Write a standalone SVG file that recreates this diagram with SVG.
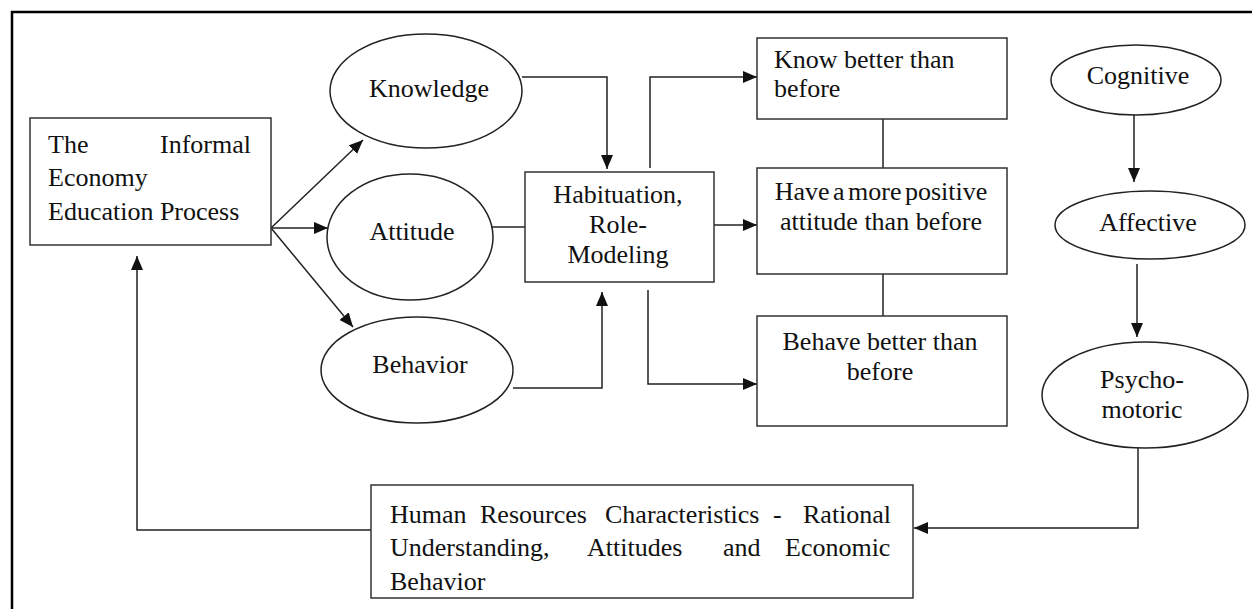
<svg xmlns="http://www.w3.org/2000/svg" width="1252" height="609" viewBox="0 0 1252 609">
<style>
.box{fill:#fff;stroke:#333;stroke-width:1.5}
.ell{fill:#fff;stroke:#222;stroke-width:1.5}
.t{font-size:26px;fill:#111}
.c{text-anchor:middle}
.ln{fill:none;stroke:#222;stroke-width:1.5}
</style>
<defs>
<marker id="ah" markerUnits="userSpaceOnUse" markerWidth="15" markerHeight="12" refX="14" refY="6" orient="auto">
<path d="M0,0 L14,6 L0,12 z" fill="#111"/>
</marker>
</defs>
<rect x="0" y="0" width="1252" height="609" fill="#fff"/>
<path d="M12,609 V12 H1252" fill="none" stroke="#000" stroke-width="2.5"/>

<g id="connectors">
<line class="ln" x1="271" y1="228" x2="363" y2="140" marker-end="url(#ah)"/>
<line class="ln" x1="271" y1="228" x2="328" y2="228" marker-end="url(#ah)"/>
<line class="ln" x1="271" y1="228" x2="353" y2="327" marker-end="url(#ah)"/>
<polyline class="ln" points="522,77 607,77 607,169" marker-end="url(#ah)"/>
<line class="ln" x1="492" y1="227" x2="525" y2="227"/>
<polyline class="ln" points="513,388 602,388 602,292" marker-end="url(#ah)"/>
<polyline class="ln" points="650,168 650,77 757,77" marker-end="url(#ah)"/>
<line class="ln" x1="714" y1="225" x2="757" y2="225" marker-end="url(#ah)"/>
<polyline class="ln" points="648,290 648,384 757,384" marker-end="url(#ah)"/>
<line class="ln" x1="883" y1="119" x2="883" y2="168"/>
<line class="ln" x1="883" y1="274" x2="883" y2="316"/>
<line class="ln" x1="1134" y1="114" x2="1134" y2="182" marker-end="url(#ah)"/>
<line class="ln" x1="1137" y1="264" x2="1137" y2="337" marker-end="url(#ah)"/>
<polyline class="ln" points="1138,448 1138,528 914,528" marker-end="url(#ah)"/>
<polyline class="ln" points="371,530 137,530 137,256" marker-end="url(#ah)"/>
</g>

<g font-family="Liberation Serif">
<g id="informal">
<rect class="box" x="30" y="118" width="241" height="127"/>
<text class="t" x="48" y="153">The</text>
<text class="t" x="251" y="153" text-anchor="end">Informal</text>
<text class="t" x="48" y="186">Economy</text>
<text class="t" x="48" y="220">Education Process</text>
</g>

<g id="knowledge">
<ellipse class="ell" cx="426" cy="91" rx="96" ry="57"/>
<text class="t c" x="429" y="97">Knowledge</text>
</g>
<g id="attitude">
<ellipse class="ell" cx="410" cy="237" rx="83" ry="63"/>
<text class="t c" x="412" y="240">Attitude</text>
</g>
<g id="behavior">
<ellipse class="ell" cx="417" cy="370" rx="96" ry="53"/>
<text class="t c" x="420" y="373">Behavior</text>
</g>

<g id="habituation">
<rect class="box" x="525" y="172" width="189" height="110"/>
<text class="t c" x="618" y="203">Habituation,</text>
<text class="t c" x="618" y="233">Role-</text>
<text class="t c" x="618" y="263">Modeling</text>
</g>

<g id="know-better">
<rect class="box" x="757" y="38" width="250" height="81"/>
<text class="t" x="774" y="68">Know better than</text>
<text class="t" x="774" y="97">before</text>
</g>
<g id="positive">
<rect class="box" x="757" y="168" width="250" height="106"/>
<text class="t c" x="881" y="200" word-spacing="-3">Have a more positive</text>
<text class="t c" x="881" y="230">attitude than before</text>
</g>
<g id="behave-better">
<rect class="box" x="757" y="316" width="250" height="110"/>
<text class="t c" x="880" y="350">Behave better than</text>
<text class="t c" x="880" y="380">before</text>
</g>

<g id="cognitive">
<ellipse class="ell" cx="1136" cy="80" rx="85" ry="35"/>
<text class="t c" x="1138" y="84">Cognitive</text>
</g>
<g id="affective">
<ellipse class="ell" cx="1150" cy="225" rx="95" ry="34"/>
<text class="t c" x="1148" y="231">Affective</text>
</g>
<g id="psychomotoric">
<ellipse class="ell" cx="1145" cy="395" rx="103" ry="53"/>
<text class="t c" x="1142" y="388">Psycho-</text>
<text class="t c" x="1142" y="418">motoric</text>
</g>

<g id="human-resources">
<rect class="box" x="371" y="485" width="542" height="113"/>
<text class="t"><tspan x="390" y="523">Human</tspan><tspan x="480" y="523">Resources</tspan><tspan x="605" y="523">Characteristics</tspan><tspan x="773" y="523">-</tspan><tspan x="803" y="523">Rational</tspan></text>
<text class="t"><tspan x="390" y="556">Understanding,</tspan><tspan x="587" y="556">Attitudes</tspan><tspan x="723" y="556">and</tspan><tspan x="785" y="556">Economic</tspan></text>
<text class="t" x="390" y="590">Behavior</text>
</g>
</g>
</svg>
